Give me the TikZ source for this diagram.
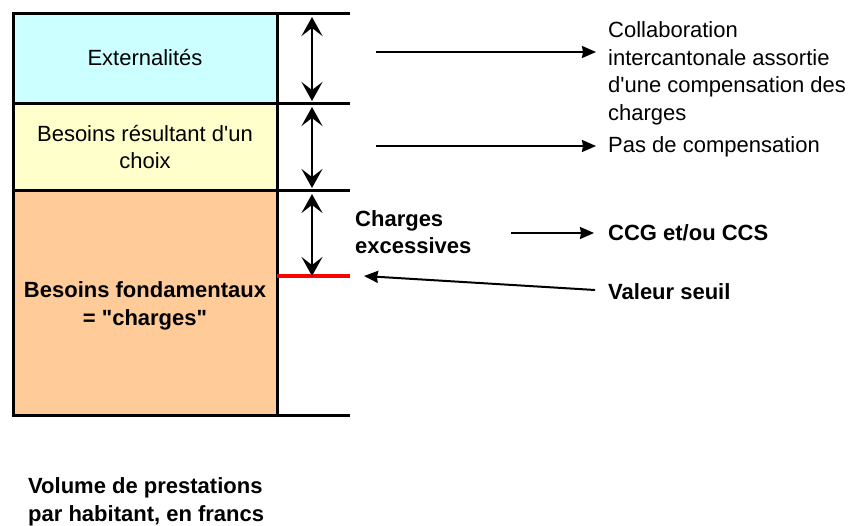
\documentclass[tikz,border=0pt]{standalone}
\usepackage{fontspec}
\setmainfont{Liberation Sans}
\usetikzlibrary{arrows.meta}
\definecolor{extcol}{RGB}{204,255,255}
\definecolor{choixcol}{RGB}{255,255,204}
\definecolor{basecol}{RGB}{255,204,153}
\tikzset{
  rule/.style={line width=3pt,black},
  dblarrow/.style={line width=2.2pt,{Stealth[length=19pt,width=21pt,inset=8pt]}-{Stealth[length=19pt,width=21pt,inset=8pt]}},
  sidearrow/.style={line width=2pt,-{Stealth[length=14pt,width=12pt,inset=1pt]}},
  label/.style={font=\fontsize{22}{27.5}\selectfont,inner sep=0pt},
  blabel/.style={font=\fontsize{22}{27.5}\selectfont\bfseries,inner sep=0pt}
}
\begin{document}
\begin{tikzpicture}[x=1pt,y=-1pt]
    \useasboundingbox (0,0) rectangle (852,526);
    % Boxes
    \filldraw[rule,fill=extcol] (13,14) rectangle (277,104);
    \filldraw[rule,fill=choixcol] (13,104) rectangle (277,191);
    \filldraw[rule,fill=basecol] (13,191) rectangle (277,416);
    \node[label] (ext) at (145,58) {Externalités};
    \node[label,align=center] (choix) at (145,147) {Besoins résultant d\textquotesingle un\\choix};
    \node[blabel,align=center] (base) at (145,306) {Besoins fondamentaux\\= \textquotedbl charges\textquotedbl};
    % Right scale
    \draw[rule] (277,14) to (350,14);
    \draw[rule] (277,104) to (350,104);
    \draw[rule] (277,191) to (350,191);
    \draw[rule] (277,416) to (350,416);
    \draw[line width=3.5pt,red] (277,276) to (350,276);
    \coordinate (a1) at (312,17);
    \coordinate (a2) at (312,101);
    \coordinate (b1) at (312,107);
    \coordinate (b2) at (312,188);
    \coordinate (c1) at (312,194);
    \coordinate (c2) at (312,276);
    \draw[dblarrow] (a1) to (a2);
    \draw[dblarrow] (b1) to (b2);
    \draw[dblarrow] (c1) to (c2);
    % Right texts
    \node[label,anchor=west,align=left] (collab) at (608,73.5) {Collaboration\\intercantonale assortie\\d\textquotesingle une compensation des\\charges};
    \node[label,anchor=west] (pas) at (608,147) {Pas de compensation};
    \node[blabel,anchor=west,align=left] (exc) at (355,232) {Charges\\excessives};
    \node[blabel,anchor=west] (ccg) at (608,233) {CCG et/ou CCS};
    \node[blabel,anchor=west] (seuil) at (608,292) {Valeur seuil};
    % Arrows
    \coordinate (s1) at (376,52);
    \coordinate (e1) at (596,52);
    \coordinate (s2) at (376,146);
    \coordinate (e2) at (596,146);
    \coordinate (s3) at (511,233);
    \coordinate (e3) at (594,233);
    \coordinate (s4) at (595,290);
    \coordinate (e4) at (364,276);
    \draw[sidearrow] (s1) to (e1);
    \draw[sidearrow] (s2) to (e2);
    \draw[sidearrow] (s3) to (e3);
    \draw[sidearrow] (s4) to (e4);
    % Axis label
    \node[blabel,anchor=west,align=left] (vol) at (28,502) {Volume de prestations\\par habitant, en francs};
\end{tikzpicture}
\end{document}
